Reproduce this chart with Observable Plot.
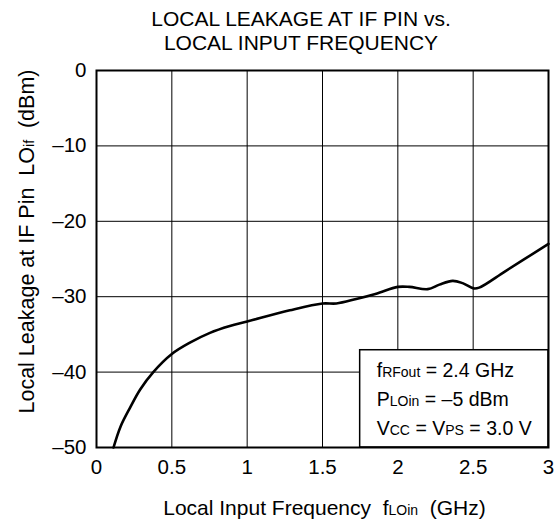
<!DOCTYPE html>
<html>
<head>
<meta charset="utf-8">
<script src="https://cdn.jsdelivr.net/npm/d3@7"></script>
<script src="https://cdn.jsdelivr.net/npm/@observablehq/plot@0.6"></script>
<style>
  html, body { margin: 0; padding: 0; background: #fff; }
  body { width: 557px; font-family: "Liberation Sans", Arial, sans-serif; }
  #title { padding-top: 7px; padding-left: 45px; width: 512px; text-align: center; font-size: 21px; line-height: 24px; color: #000; white-space: nowrap; }
  svg text { font-family: "Liberation Sans", Arial, sans-serif; white-space: pre; }
</style>
</head>
<body>
<div id="title">LOCAL LEAKAGE AT IF PIN vs.<br>LOCAL INPUT FREQUENCY</div>
<div id="chart"></div>
<script>
// ---- data ----
const freqGHz = [0.113, 0.16, 0.223, 0.29, 0.377, 0.5, 0.62, 0.753, 0.885, 1.0, 1.283, 1.5, 1.592, 1.724, 1.857, 2.0, 2.077, 2.199, 2.276, 2.364, 2.43, 2.503, 2.54, 2.715, 3.0];
const leakageDBm = [-50, -47.2, -44.7, -42.3, -40.0, -37.6, -36.1, -34.8, -33.9, -33.3, -31.8, -30.9, -30.9, -30.3, -29.6, -28.7, -28.7, -29.0, -28.4, -27.9, -28.2, -28.9, -28.8, -26.6, -23.0];
const xTicks = [0, 0.5, 1, 1.5, 2, 2.5, 3];
const xTickLabels = ["0", "0.5", "1", "1.5", "2", "2.5", "3"];
const yTicks = [0, -10, -20, -30, -40, -50];
const yTickLabels = ["0", "–10", "–20", "–30", "–40", "–50"];
const legendLines = ["f{RFout} = 2.4 GHz", "P{LOin} = –5 dBm", "V{CC} = V{PS} = 3.0 V"];
const legendBox = [{x1: 1.75, x2: 3, y1: -50, y2: -37.1}];
const xLabel = "Local Input Frequency  f{LOin}  (GHz)";
const yLabel = "Local Leakage at IF Pin  LO{if}  (dBm)";

const curve = freqGHz.map((f, i) => ({f, v: leakageDBm[i]}));
const font = 20.5;

const chart = Plot.plot({
  width: 557,
  height: 469,
  marginLeft: 96,
  marginRight: 9,
  marginTop: 15,
  marginBottom: 77,
  style: {fontFamily: "Liberation Sans, Arial, sans-serif", background: "#fff", color: "#000"},
  x: {domain: [0, 3]},
  y: {domain: [-50, 0]},
  marks: [
    Plot.gridX(xTicks, {stroke: "#000", strokeOpacity: 1, strokeWidth: 1}),
    Plot.gridY(yTicks, {stroke: "#000", strokeOpacity: 1, strokeWidth: 1}),
    Plot.rect(legendBox, {x1: "x1", x2: "x2", y1: "y1", y2: "y2", fill: "#fff", stroke: "#000", strokeWidth: 1.5}),
    Plot.line(curve, {x: "f", y: "v", curve: "catmull-rom", stroke: "#000", strokeWidth: 2.6}),
    Plot.frame({stroke: "#000", strokeWidth: 2}),
    Plot.axisX(xTicks, {tickSize: 0, tickPadding: 12, fontSize: font, label: null,
      tickFormat: (d) => xTickLabels[xTicks.indexOf(d)]}),
    Plot.axisY(yTicks, {tickSize: 0, tickPadding: 10, fontSize: font, label: null,
      tickFormat: (d) => yTickLabels[yTicks.indexOf(d)]}),
    Plot.text(legendLines, {x: () => 1.86, y: (d, i) => -40.7 - i * 3.8, text: (d) => d,
      textAnchor: "start", lineAnchor: "bottom", fontSize: 19.5, fill: "#000"}),
    Plot.text([xLabel], {frameAnchor: "bottom", dx: 2, dy: 67, textAnchor: "middle", lineAnchor: "bottom", fontSize: 21, fill: "#000"}),
    Plot.text([yLabel], {frameAnchor: "left", rotate: -90, dx: -63, dy: -17.5, textAnchor: "middle", lineAnchor: "bottom", fontSize: 21.5, fill: "#000"})
  ]
});

// Render {..} segments as small subscript-like text (same baseline)
d3.select(chart).selectAll("text").each(function () {
  const t = d3.select(this);
  const s = t.text();
  if (!s.includes("{")) return;
  const parts = s.split(/(\{[^}]*\})/).filter((p) => p.length);
  const mainSize = parseFloat(t.attr("font-size") || getComputedStyle(this).fontSize) || font;
  t.text(null).attr("xml:space", "preserve");
  for (const p of parts) {
    if (p.startsWith("{")) {
      t.append("tspan").attr("font-size", Math.round(mainSize * 0.66)).text(p.slice(1, -1));
    } else {
      t.append("tspan").text(p);
    }
  }
});

document.getElementById("chart").appendChild(chart);
</script>
</body>
</html>
